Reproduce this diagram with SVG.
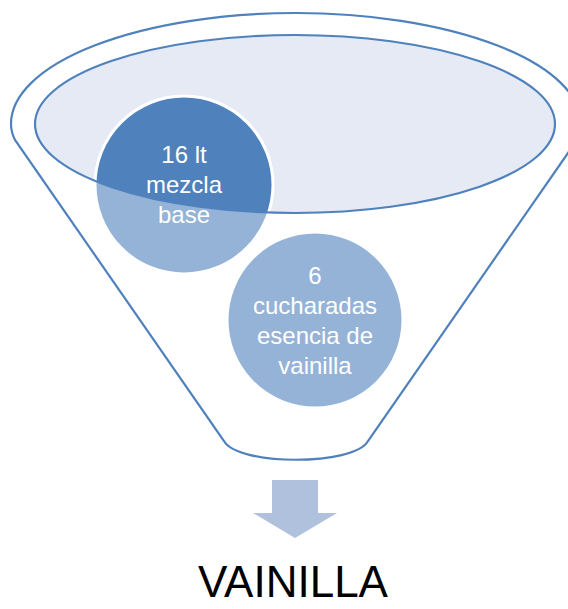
<svg xmlns="http://www.w3.org/2000/svg" width="568" height="609" viewBox="0 0 568 609">
<style>
.ln{fill:none;stroke:#4F81BD;stroke-width:2.2}
.circ{fill:#4F81BD;stroke:#FFFFFF;stroke-width:3}
.t{font-family:"Liberation Sans",Arial,sans-serif;font-size:24px;fill:#FFFFFF;text-anchor:middle}
</style>
<defs>
<path id="funnel" d="M 15 140 Q 11 132 11 124 A 285 111 0 0 1 581 124 Q 581 132 577 140 L 368 441 C 354 466 238 466 224 441 Z"/>
</defs>
<g id="funnel-body">
<use href="#funnel" fill="#FFFFFF"/>
<ellipse cx="295" cy="124" rx="260" ry="89" fill="#E5EAF4"/>
</g>
<g id="node-1">
<circle class="circ" cx="184" cy="185" r="89"/>
<text class="t" x="184" y="163">16 lt</text>
<text class="t" x="184" y="193">mezcla</text>
<text class="t" x="184" y="223">base</text>
</g>
<g id="node-2">
<circle class="circ" cx="315" cy="320" r="88"/>
<text class="t" x="315" y="284">6</text>
<text class="t" x="315" y="314">cucharadas</text>
<text class="t" x="315" y="344">esencia de</text>
<text class="t" x="315" y="374">vainilla</text>
</g>
<g id="funnel-front">
<path d="M 15 140 Q 11 132 11 124 A 285 111 0 0 1 581 124 Q 581 132 577 140 L 368 441 C 354 466 238 466 224 441 Z M 35 124 A 260 89 0 0 0 555 124 A 260 89 0 0 0 35 124 Z" fill="#FFFFFF" fill-opacity="0.4" fill-rule="evenodd"/>
<ellipse class="ln" cx="295" cy="124" rx="260" ry="89"/>
<use href="#funnel" class="ln"/>
</g>
<g id="connectors">
<path d="M 272 480 L 318 480 L 318 513 L 337 513 L 295 538 L 253 513 L 272 513 Z" fill="#AFC1DD"/>
</g>
<g id="result">
<text x="293" y="597" font-family="&quot;Liberation Sans&quot;,Arial,sans-serif" font-size="44" fill="#000000" text-anchor="middle">VAINILLA</text>
</g>
</svg>
